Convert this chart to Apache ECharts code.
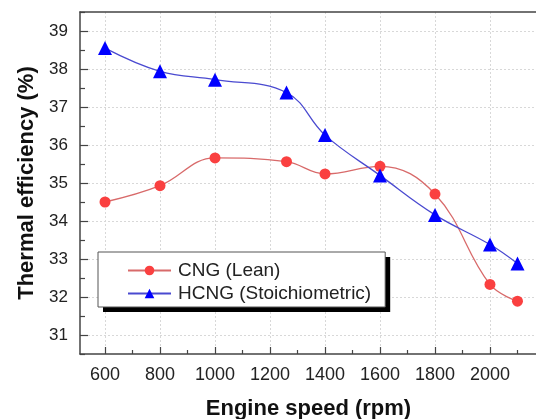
<!DOCTYPE html>
<html>
<head>
<meta charset="utf-8">
<script src="https://cdn.jsdelivr.net/npm/echarts@6/dist/echarts.min.js"></script>
<style>html,body{margin:0;padding:0;background:#fff}#c{width:536px;height:419px}</style>
</head>
<body>
<div id="c"></div>
<script>
const speeds = [600, 800, 1000, 1260, 1400, 1600, 1800, 2000, 2100];
const cngLean = [34.50, 34.93, 35.66, 35.56, 35.24, 35.44, 34.71, 32.33, 31.89];
const hcngStoich = [38.55, 37.94, 37.72, 37.38, 36.26, 35.20, 34.16, 33.38, 32.88];
const xTicks = [600, 800, 1000, 1200, 1400, 1600, 1800, 2000];
const xMinorTicks = [700, 900, 1100, 1300, 1500, 1700, 1900, 2100];
const yTicks = [31, 32, 33, 34, 35, 36, 37, 38, 39];
const yMinorTicks = [30.5, 31.5, 32.5, 33.5, 34.5, 35.5, 36.5, 37.5, 38.5, 39.5];
const seriesNames = ['CNG (Lean)', 'HCNG (Stoichiometric)'];

const FONT = '"Liberation Sans", Arial, sans-serif';
const XMIN = 509, XMAX = 2171, YMIN = 30.5, YMAX = 39.5;
const axisCol = '#444';

const legendBase = {
  orient: 'vertical', left: 98, top: 252,
  padding: [9, 14, 4, 29], itemGap: 4, itemWidth: 43, itemHeight: 12,
  textStyle: {fontFamily: FONT, fontSize: 19, color: '#222', padding: [0, 0, 0, 2]},
  data: seriesNames
};

const chart = echarts.init(document.getElementById('c'), null, {renderer: 'canvas'});
chart.setOption({
  animation: false,
  backgroundColor: '#fff',
  textStyle: {fontFamily: FONT},
  grid: {left: 80, top: 12, right: -1, bottom: 65, containLabel: false, outerBoundsMode: 'none'},
  xAxis: [
    {
      type: 'value', position: 'bottom', min: XMIN, max: XMAX,
      name: 'Engine speed (rpm)', nameLocation: 'middle', nameGap: 44,
      nameTextStyle: {fontFamily: FONT, fontSize: 22, fontWeight: 'bold', color: '#111'},
      axisLine: {show: true, onZero: false, lineStyle: {color: axisCol, width: 1.5}},
      axisTick: {show: true, inside: true, length: 7, customValues: xTicks, lineStyle: {color: axisCol, width: 1.2}},
      axisLabel: {customValues: xTicks, margin: 12, fontSize: 18, color: '#222', fontFamily: FONT,
                  formatter: v => String(v)},
      splitLine: {show: true, lineStyle: {color: '#d8d8d8', type: [2, 2], width: 1}}
    },
    {
      type: 'value', position: 'bottom', min: XMIN, max: XMAX,
      axisLine: {show: false, onZero: false},
      axisTick: {show: true, inside: true, length: 4, customValues: xMinorTicks, lineStyle: {color: axisCol, width: 1.2}},
      axisLabel: {show: false},
      splitLine: {show: false}
    },
    {
      type: 'value', position: 'top', min: XMIN, max: XMAX,
      axisLine: {show: true, onZero: false, lineStyle: {color: axisCol, width: 1.5}},
      axisTick: {show: false}, axisLabel: {show: false}, splitLine: {show: false}
    }
  ],
  yAxis: [
    {
      type: 'value', position: 'left', min: YMIN, max: YMAX,
      name: 'Thermal efficiency (%)', nameLocation: 'middle', nameGap: 41,
      nameTextStyle: {fontFamily: FONT, fontSize: 22, fontWeight: 'bold', color: '#111'},
      axisLine: {show: true, onZero: false, lineStyle: {color: axisCol, width: 1.5}},
      axisTick: {show: true, inside: true, length: 8, customValues: yTicks, lineStyle: {color: axisCol, width: 1.2}},
      axisLabel: {customValues: yTicks, margin: 12, fontSize: 17, color: '#222', fontFamily: FONT,
                  formatter: v => String(v)},
      splitLine: {show: true, lineStyle: {color: '#d8d8d8', type: [2, 2], width: 1}}
    },
    {
      type: 'value', position: 'left', min: YMIN, max: YMAX,
      axisLine: {show: false, onZero: false},
      axisTick: {show: true, inside: true, length: 5, customValues: yMinorTicks, lineStyle: {color: axisCol, width: 1.2}},
      axisLabel: {show: false},
      splitLine: {show: false}
    }
  ],
  legend: [
    Object.assign({}, legendBase, {
      z: 5,
      backgroundColor: '#fff', borderWidth: 0,
      shadowColor: '#000', shadowBlur: 0, shadowOffsetX: 5, shadowOffsetY: 5
    }),
    Object.assign({}, legendBase, {
      z: 6,
      backgroundColor: 'transparent', borderColor: '#555', borderWidth: 1,
      textStyle: Object.assign({}, legendBase.textStyle, {color: 'rgba(0,0,0,0)'}),
      itemStyle: {opacity: 0}, lineStyle: {opacity: 0}
    })
  ],
  series: [
    {
      name: seriesNames[0], type: 'line', xAxisIndex: 0, yAxisIndex: 0,
      data: speeds.map((s, i) => [s, cngLean[i]]),
      smooth: 0.4, symbol: 'circle', symbolSize: 11,
      lineStyle: {color: '#d86a6a', width: 1.3},
      itemStyle: {color: '#fa4040'}
    },
    {
      name: seriesNames[1], type: 'line', xAxisIndex: 0, yAxisIndex: 0,
      data: speeds.map((s, i) => [s, hcngStoich[i]]),
      smooth: 0.4, symbol: 'triangle', symbolSize: 14,
      lineStyle: {color: '#4a4ad0', width: 1.3},
      itemStyle: {color: '#0000ff'}
    }
  ]
});
</script>
</body>
</html>
